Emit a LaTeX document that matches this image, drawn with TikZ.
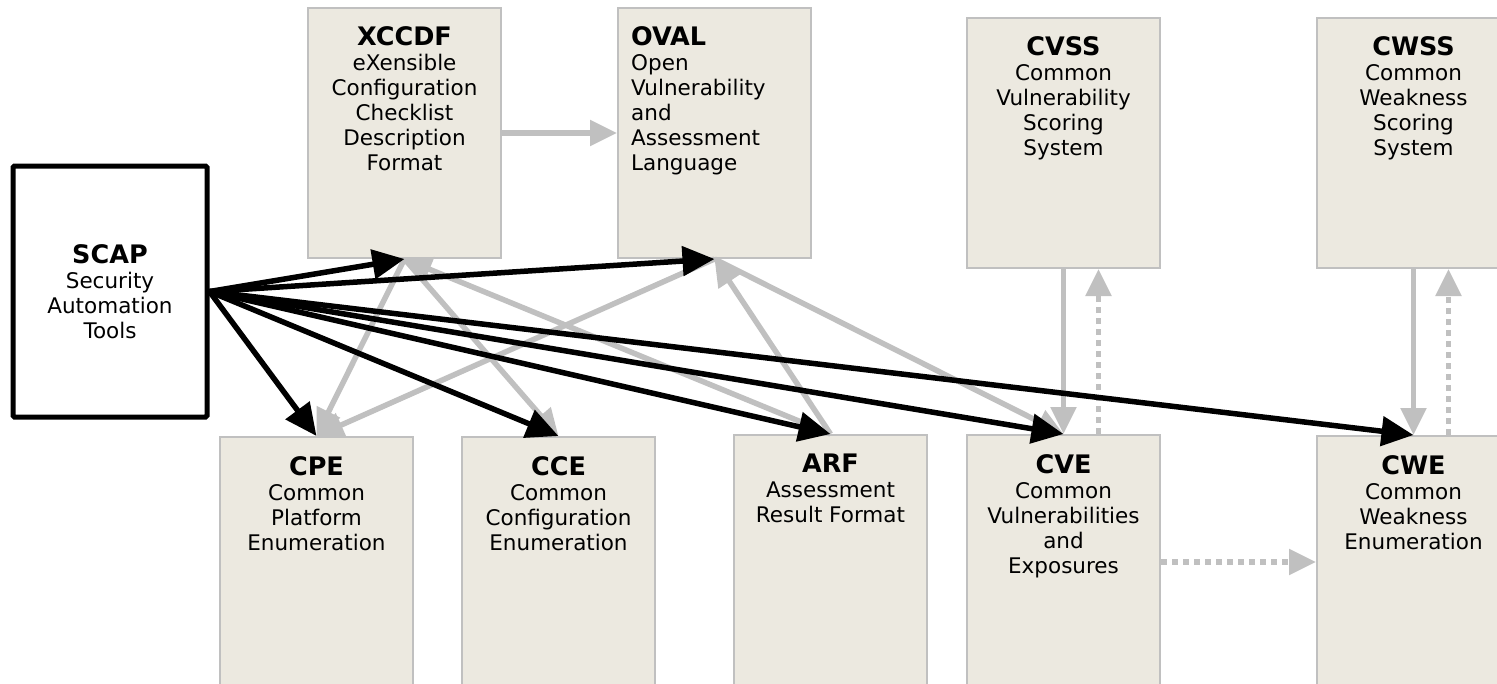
\documentclass[tikz,border=0pt]{standalone}
\usepackage{fontspec}
\setmainfont{DejaVu Sans}
\usetikzlibrary{arrows.meta}
\definecolor{boxfill}{RGB}{236,233,224}
\definecolor{linegray}{RGB}{192,192,192}
\newcommand{\ttl}[1]{{\fontsize{25.5}{25}\selectfont\bfseries #1}}
\begin{document}
\begin{tikzpicture}[x=1pt,y=-1pt,
  box/.style={draw=linegray, line width=2pt, fill=boxfill, minimum width=193pt, inner sep=0pt, anchor=north west},
  topbox/.style={box, minimum height=250pt},
  lowbox/.style={box, minimum height=280pt},
  txt/.style={align=center, inner sep=0pt, anchor=north, font=\fontsize{21.5}{25}\selectfont},
  scapbox/.style={draw=black, line width=5pt, rounded corners=1.5pt, fill=white, minimum width=194pt, minimum height=251pt, inner sep=0pt, align=center, font=\fontsize{21.5}{25}\selectfont},
  garrow/.style={draw=linegray, line width=5.5pt, -{Triangle[length=27pt,width=25pt]}},
  barrow/.style={draw=black, line width=5.5pt, -{Triangle[length=32pt,width=29pt]}},
  dotarrow/.style={garrow, dash pattern=on 6pt off 5pt},
]
\useasboundingbox (0,0) rectangle (1497,683);
\clip (0,0) rectangle (1497,683);
% boxes
\node[topbox] (xccdf) at (307,7) {};
\node[topbox] (oval) at (617,7) {};
\node[topbox] (cvss) at (966,17) {};
\node[topbox] (cwss) at (1316,17) {};
\node[lowbox] (cpe) at (219,436) {};
\node[lowbox] (cce) at (461,436) {};
\node[lowbox] (arf) at (733,434) {};
\node[lowbox] (cve) at (966,434) {};
\node[lowbox] (cwe) at (1316,435) {};
\node[scapbox] (scap) at (110,291.5) {\ttl{SCAP}\\Security\\Automation\\Tools};
% texts
\node[txt] (xccdft) at ([yshift=-19pt]xccdf.north) {\ttl{XCCDF}\\eXensible\\Configuration\\Checklist\\Description\\Format};
\node[txt, align=left, anchor=north west] (ovalt) at ([xshift=14pt,yshift=-19pt]oval.north west) {\ttl{OVAL}\\Open\\Vulnerability\\and\\Assessment\\Language};
\node[txt] (cvsst) at ([yshift=-19pt]cvss.north) {\ttl{CVSS}\\Common\\Vulnerability\\Scoring\\System};
\node[txt] (cwsst) at ([yshift=-19pt]cwss.north) {\ttl{CWSS}\\Common\\Weakness\\Scoring\\System};
\node[txt] (cpet) at ([yshift=-20pt]cpe.north) {\ttl{CPE}\\Common\\Platform\\Enumeration};
\node[txt] (ccet) at ([yshift=-20pt]cce.north) {\ttl{CCE}\\Common\\Configuration\\Enumeration};
\node[txt] (arft) at ([yshift=-20pt]arf.north) {\ttl{ARF}\\Assessment\\Result Format};
\node[txt] (cvet) at ([yshift=-20pt]cve.north) {\ttl{CVE}\\Common\\Vulnerabilities\\and\\Exposures};
\node[txt] (cwet) at ([yshift=-20pt]cwe.north) {\ttl{CWE}\\Common\\Weakness\\Enumeration};
% helper coordinates
\coordinate (cvedot) at ([xshift=35pt]cve.north);
\coordinate (cvssdot) at ([xshift=35pt]cvss.south);
\coordinate (cwedot) at ([xshift=35pt]cwe.north);
\coordinate (cwssdot) at ([xshift=35pt]cwss.south);
\coordinate (cveright) at (cve.east |- 0,562);
\coordinate (cweleft) at (cwe.west |- 0,562);
% gray arrows
\draw[garrow] (xccdf.east) -- (oval.west);
\draw[garrow] (arf.north) -- (xccdf.south);
\draw[garrow] (arf.north) -- (oval.south);
\draw[garrow] (xccdf.south) -- (cpe.north);
\draw[garrow] (xccdf.south) -- (cce.north);
\draw[garrow] (oval.south) -- (cpe.north);
\draw[garrow] (oval.south) -- (cve.north);
\draw[garrow] (cvss.south) -- (cve.north);
\draw[garrow] (cwss.south) -- (cwe.north);
\draw[dotarrow] (cvedot) -- (cvssdot);
\draw[dotarrow] (cwedot) -- (cwssdot);
\draw[dotarrow] (cveright) -- (cweleft);
% black arrows
\draw[barrow] (scap.east) -- (xccdf.south);
\draw[barrow] (scap.east) -- (oval.south);
\draw[barrow] (scap.east) -- (cpe.north);
\draw[barrow] (scap.east) -- (cce.north);
\draw[barrow] (scap.east) -- (arf.north);
\draw[barrow] (scap.east) -- (cve.north);
\draw[barrow] (scap.east) -- (cwe.north);
\end{tikzpicture}
\end{document}
